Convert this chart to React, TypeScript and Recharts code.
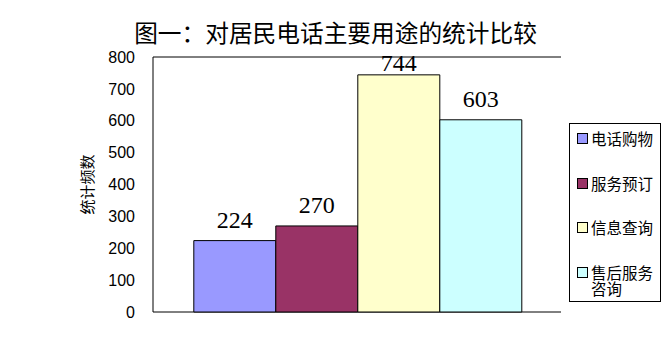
import React from 'react';
import { BarChart, Bar, XAxis, YAxis, CartesianGrid, LabelList } from 'recharts';

// Usage categories and their counts
const categories = ['居民电话主要用途'];
const seriesNames = ['电话购物', '服务预订', '信息查询', '售后服务咨询'];
const seriesValues = [224, 270, 744, 603];
const seriesColors = ['#9999FF', '#993366', '#FFFFCC', '#CCFFFF'];
const yTicks = [0, 100, 200, 300, 400, 500, 600, 700, 800];
const titleText = '图一：对居民电话主要用途的统计比较';
const yAxisTitle = '统计频数';

const data = categories.map((name) => {
  const row: Record<string, string | number> = { name };
  seriesNames.forEach((_, i) => {
    row[`s${i}`] = seriesValues[i];
  });
  return row;
});

const cjk = '"Noto Sans CJK SC", "Noto Sans", sans-serif';
const serif = '"Liberation Serif", "Times New Roman", serif';

// Value label above a bar; kept from rising past the top of the chart area
function ValueLabel(props: any) {
  const { x, y, width, value } = props;
  const baseline = Math.max(y - 13, 71);
  return (
    <text x={x + width / 2} y={baseline} textAnchor="middle" fill="#000" fontSize={24} fontFamily={serif}>
      {value}
    </text>
  );
}

function LegendBox() {
  return (
    <div
      style={{
        position: 'absolute',
        left: 569,
        top: 123,
        width: 92,
        height: 179,
        boxSizing: 'border-box',
        border: '1px solid #000',
        background: '#fff',
        paddingTop: 6,
        fontFamily: cjk,
        fontSize: 15.5,
        color: '#000',
      }}
    >
      {seriesNames.map((n, i) => (
        <div key={n} style={{ height: 44.6, display: 'flex', alignItems: 'flex-start' }}>
          <div
            style={{
              width: 9,
              height: 9,
              border: '1px solid #000',
              background: seriesColors[i],
              marginLeft: 7,
              marginTop: 3,
              flex: 'none',
            }}
          />
          <div style={{ marginLeft: 3, lineHeight: '16px', width: 66 }}>{n}</div>
        </div>
      ))}
    </div>
  );
}

export default function App() {
  return (
    <div style={{ position: 'absolute', left: 0, top: 0, width: 671, height: 360, background: '#fff' }}>
      <div
        style={{
          position: 'absolute',
          left: 0,
          width: 671,
          top: 19,
          textAlign: 'center',
          fontFamily: cjk,
          fontSize: 23.7,
          lineHeight: '26px',
          color: '#000',
          whiteSpace: 'nowrap',
        }}
      >
        {titleText}
      </div>
      <BarChart
        width={671}
        height={360}
        data={data}
        margin={{ top: 57, right: 110, bottom: 48, left: 0 }}
        barCategoryGap="10%"
        barGap={0}
      >
        <CartesianGrid vertical={false} stroke="#000" strokeWidth={1} />
        <XAxis dataKey="name" hide />
        <YAxis
          yAxisId="left"
          width={153}
          domain={[0, 800]}
          ticks={yTicks}
          interval={0}
          tickLine={false}
          tickSize={0}
          tickMargin={18}
          axisLine={{ stroke: '#000', strokeWidth: 1 }}
          tick={{ fill: '#000', fontSize: 16, fontFamily: '"Liberation Sans", Arial, sans-serif' }}
          label={{
            value: yAxisTitle,
            angle: -90,
            position: 'insideLeft',
            offset: 88,
            style: { fill: '#000', fontSize: 15, fontFamily: cjk, textAnchor: 'middle' },
          }}
        />
        <YAxis
          yAxisId="right"
          orientation="right"
          width={0}
          domain={[0, 800]}
          tick={false}
          tickLine={false}
          axisLine={{ stroke: '#000', strokeWidth: 1 }}
        />
        {seriesNames.map((n, i) => (
          <Bar
            key={n}
            yAxisId="left"
            dataKey={`s${i}`}
            name={n}
            fill={seriesColors[i]}
            stroke="#000"
            strokeWidth={1}
            isAnimationActive={false}
          >
            <LabelList dataKey={`s${i}`} content={ValueLabel} />
          </Bar>
        ))}
      </BarChart>
      <LegendBox />
    </div>
  );
}
